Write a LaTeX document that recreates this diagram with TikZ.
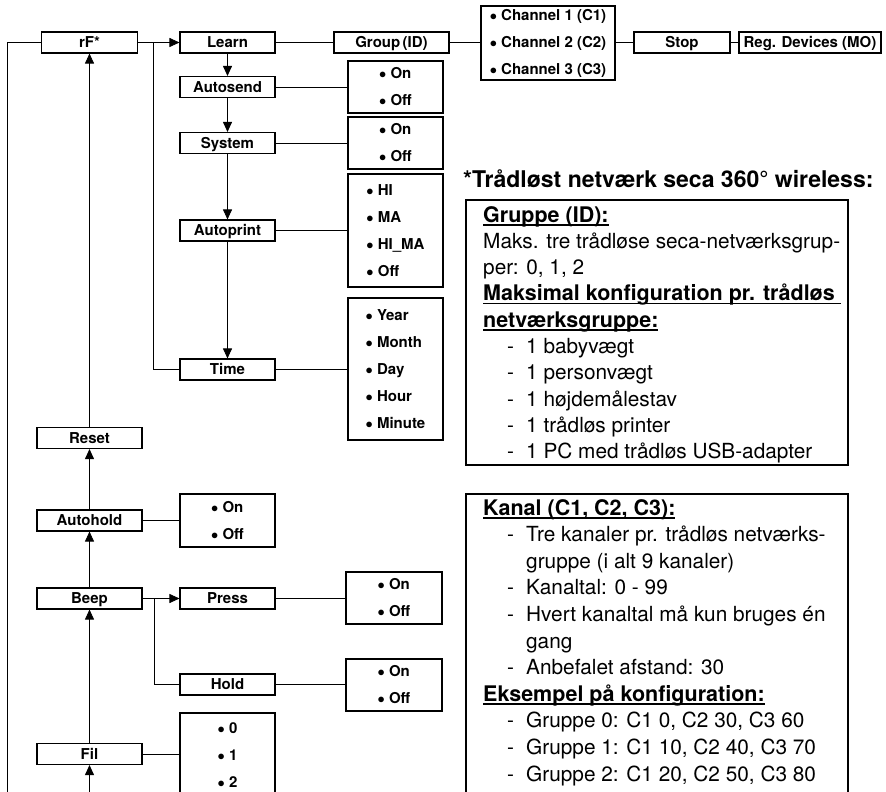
\documentclass[tikz,border=0pt]{standalone}
\usepackage{fontspec}
\setmainfont{TeX Gyre Heros}
\usetikzlibrary{arrows.meta}

% underlined bold heading, indented dash line, list bullet
\newcommand\hdline[1]{\setbox0\hbox{\bfseries #1}\rlap{\rule[-3.5pt]{\wd0}{1.8pt}}\box0}
\newcommand\dashitem[1]{\makebox[19pt][l]{-}#1}
\newcommand\bul{\ensuremath{\bullet}\ }

\begin{document}
\begin{tikzpicture}[x=1pt, y=-1pt,
    menubox/.style={draw, line width=1.1pt, minimum height=21pt, inner sep=0pt,
        text height=10.8pt, text depth=0pt, font=\bfseries\fontsize{15}{18}\selectfont},
    optbox/.style={draw, line width=1.1pt, inner sep=0pt, align=left,
        font=\bfseries\fontsize{15}{27}\selectfont},
    link/.style={line width=0.9pt},
    arr/.style={link, -{Triangle[length=10pt,width=9pt]}},
    infotxt/.style={anchor=base west, inner sep=0pt, font=\fontsize{20.8}{25}\selectfont},
    infohd/.style={anchor=base west, inner sep=0pt, font=\fontsize{21.5}{25}\selectfont},
]
    \useasboundingbox (0,0) rectangle (886,792);
    \clip (0,0) rectangle (886,792);

    % main menu column
    \node[menubox, minimum width=96pt]  (rf)       at (89.5,42.5)  {rF*};
    \node[menubox, minimum width=105pt] (reset)    at (89.5,438)   {Reset};
    \node[menubox, minimum width=105pt] (autohold) at (89.5,520.5) {Autohold};
    \node[menubox, minimum width=105pt] (beep)     at (89.5,598.5) {Beep};
    \node[menubox, minimum width=105pt] (fil)      at (89.5,754)   {Fil};

    % rF sub menu
    \node[menubox, minimum width=95pt]  (learn)     at (227.5,42.5)  {Learn};
    \node[menubox, minimum width=95pt]  (autosend)  at (227.5,87)    {Autosend};
    \node[menubox, minimum width=95pt]  (system)    at (227.5,143)   {System};
    \node[menubox, minimum width=95pt]  (autoprint) at (227.5,230.5) {Autoprint};
    \node[menubox, minimum width=95pt]  (time)      at (227.5,369.5) {Time};

    \node[menubox, minimum width=115pt] (group)   at (391.5,42.5) {Group\,(ID)};
    \node[optbox, minimum width=134pt, minimum height=74pt] (channel) at (548,43)
        {\bul Channel 1 (C1)\\\bul Channel 2 (C2)\\\bul Channel 3 (C3)};
    \node[menubox, minimum width=96pt]  (stop)    at (682,42.5)   {Stop};
    \node[menubox, minimum width=142pt] (regdev)  at (810,42.5)   {Reg. Devices (MO)};

    \node[optbox, minimum width=95pt, minimum height=52pt]  (sendopt)  at (395.5,87)    {\bul On\\\bul Off};
    \node[optbox, minimum width=95pt, minimum height=52pt]  (sysopt)   at (395.5,143)   {\bul On\\\bul Off};
    \node[optbox, minimum width=95pt, minimum height=113pt] (printopt) at (395.5,230.5)
        {\bul HI\\\bul MA\\\bul HI\_MA\\\bul Off};
    \node[optbox, minimum width=95pt, minimum height=142pt] (timeopt)  at (395.5,369)
        {\bul Year\\\bul Month\\\bul Day\\\bul Hour\\\bul Minute};

    % lower sub menus
    \node[optbox, minimum width=95pt, minimum height=53pt] (holdopt) at (227.5,520.5) {\bul On\\\bul Off};
    \node[menubox, minimum width=95pt] (press) at (227.5,598.5) {Press};
    \node[menubox, minimum width=95pt] (hold)  at (227.5,684.5) {Hold};
    \node[optbox, minimum width=96pt, minimum height=52pt] (pressopt) at (394,598) {\bul On\\\bul Off};
    \node[optbox, minimum width=96pt, minimum height=52pt] (holdsub)  at (394,685) {\bul On\\\bul Off};
    \node[optbox, minimum width=95pt, minimum height=84pt] (filopt)   at (227.5,755) {\bul 0\\\bul 1\\\bul 2};

    % connectors
    \coordinate (loopin) at (7,800);
    \coordinate (filin)  at (89.5,800);
    \coordinate (split1) at (153,42.5);
    \coordinate (split2) at (154,598.5);

    \draw[link] (loopin) |- (rf.west);
    \draw[arr]  (filin) -- (fil.south);
    \draw[arr]  (fil) -- (beep);
    \draw[arr]  (beep) -- (autohold);
    \draw[arr]  (autohold) -- (reset);
    \draw[arr]  (reset) -- (rf);

    \draw[arr]  (rf) -- (learn);
    \draw[link] (split1) |- (time.west);
    \draw[arr]  (learn) -- (autosend);
    \draw[arr]  (autosend) -- (system);
    \draw[arr]  (system) -- (autoprint);
    \draw[arr]  (autoprint) -- (time);

    \draw[link] (learn) -- (group);
    \draw[link] (group.east) -- (group.east -| channel.west);
    \draw[link] (channel.east |- stop.west) -- (stop.west);
    \draw[link] (stop) -- (regdev);

    \draw[link] (autosend) -- (autosend -| sendopt.west);
    \draw[link] (system) -- (system -| sysopt.west);
    \draw[link] (autoprint) -- (autoprint -| printopt.west);
    \draw[link] (time) -- (time -| timeopt.west);

    \draw[link] (autohold) -- (autohold -| holdopt.west);
    \draw[arr]  (beep) -- (press);
    \draw[link] (split2) |- (hold.west);
    \draw[link] (press) -- (press -| pressopt.west);
    \draw[link] (hold) -- (hold -| holdsub.west);
    \draw[link] (fil) -- (fil -| filopt.west);

    % wireless notes
    \node[anchor=base west, inner sep=0pt, font=\bfseries\fontsize{23}{28}\selectfont] (title)
        at (463,187) {*Trådløst netværk seca 360° wireless:};

    \draw[line width=2pt] (466,200) rectangle (848,465);
    \node[infohd]  (grp0) at (483,222)   {\hdline{Gruppe (ID):}};
    \node[infotxt] (grp1) at (483,248.3) {Maks. tre trådløse seca-netværksgrup-};
    \node[infotxt] (grp2) at (483,274.6) {per: 0, 1, 2};
    \node[infohd]  (grp3) at (483,300.9) {\hdline{Maksimal konfiguration pr. trådløs\ }};
    \node[infohd]  (grp4) at (483,327.2) {\hdline{netværksgruppe:}};
    \node[infotxt] (grp5) at (507,353.5) {\dashitem{1 babyvægt}};
    \node[infotxt] (grp6) at (507,379.8) {\dashitem{1 personvægt}};
    \node[infotxt] (grp7) at (507,406.1) {\dashitem{1 højdemålestav}};
    \node[infotxt] (grp8) at (507,432.4) {\dashitem{1 trådløs printer}};
    \node[infotxt] (grp9) at (507,458.7) {\dashitem{1 PC med trådløs USB-adapter}};

    \draw[line width=2pt] (466,494) rectangle (848,810);
    \node[infohd]  (kan0)  at (483,515)   {\hdline{Kanal (C1, C2, C3):}};
    \node[infotxt] (kan1)  at (507,541.6) {\dashitem{Tre kanaler pr. trådløs netværks-}};
    \node[infotxt] (kan2)  at (526,568.2) {gruppe (i alt 9 kanaler)};
    \node[infotxt] (kan3)  at (507,594.8) {\dashitem{Kanaltal: 0 - 99}};
    \node[infotxt] (kan4)  at (507,621.4) {\dashitem{Hvert kanaltal må kun bruges én}};
    \node[infotxt] (kan5)  at (526,648)   {gang};
    \node[infotxt] (kan6)  at (507,674.6) {\dashitem{Anbefalet afstand: 30}};
    \node[infohd]  (kan7)  at (483,701.2) {\hdline{Eksempel på konfiguration:}};
    \node[infotxt] (kan8)  at (507,727.8) {\dashitem{Gruppe 0: C1 0, C2 30, C3 60}};
    \node[infotxt] (kan9)  at (507,754.4) {\dashitem{Gruppe 1: C1 10, C2 40, C3 70}};
    \node[infotxt] (kan10) at (507,781)   {\dashitem{Gruppe 2: C1 20, C2 50, C3 80}};
\end{tikzpicture}
\end{document}
